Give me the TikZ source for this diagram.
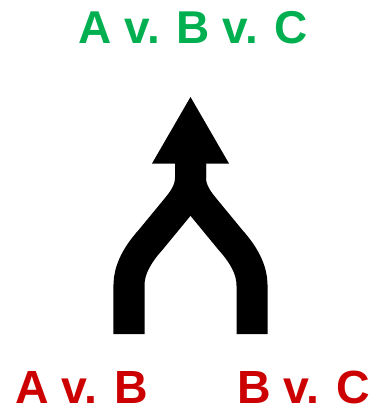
\documentclass[tikz,border=0pt]{standalone}
\usepackage{fontspec}
\setmainfont{Liberation Sans}
\definecolor{topgreen}{RGB}{0,176,80}
\definecolor{botred}{RGB}{204,0,0}
\begin{document}
\begin{tikzpicture}[x=1bp,y=-1bp,
  toplabel/.style={text=topgreen,font=\fontsize{46bp}{50bp}\selectfont\bfseries,anchor=base,inner sep=0pt,text depth=0pt},
  botlabel/.style={text=botred,font=\fontsize{46.5bp}{50bp}\selectfont\bfseries,anchor=base,inner sep=0pt,text depth=0pt},
  branch/.style={line width=31bp,line cap=butt,draw=black}]
\useasboundingbox (0,0) rectangle (383,408);
% left branch
\draw[branch] (129,334) -- (129,285) .. controls (129,270) and (137,255) .. (150.5,240)
  -- (175.2,210) .. controls (181.5,202.3) and (190.5,192) .. (190.5,178) -- (190.5,158);
% right branch
\draw[branch] (252,334) -- (252,285) .. controls (252,270) and (244,255) .. (230.5,240)
  -- (205.8,210) .. controls (199.5,202.3) and (190.5,192) .. (190.5,178) -- (190.5,158);
% arrow head
\fill[black] (190.5,97) -- (229,163.5) -- (152,163.5) -- cycle;
\node[toplabel] (top) at (193.5,43) {A v. B v. C};
\node[botlabel] (ab) at (81.5,403.5) {A v. B};
\node[botlabel] (bc) at (303.5,403.5) {B v. C};
\end{tikzpicture}
\end{document}
